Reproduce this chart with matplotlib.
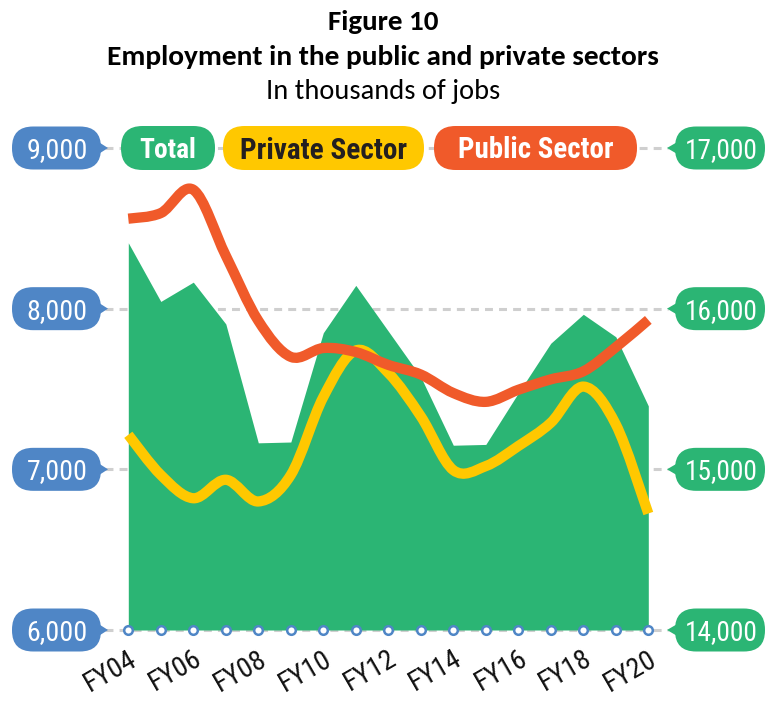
import numpy as np
import matplotlib
matplotlib.use("Agg")
import matplotlib.pyplot as plt
from matplotlib.path import Path
from matplotlib.patches import PathPatch, FancyBboxPatch, Polygon
from matplotlib.transforms import IdentityTransform
from matplotlib import font_manager

# ---------------- data ----------------
years = ["FY04", "FY05", "FY06", "FY07", "FY08", "FY09", "FY10", "FY11", "FY12",
         "FY13", "FY14", "FY15", "FY16", "FY17", "FY18", "FY19", "FY20"]
total = [16410, 16045, 16165, 15905, 15165, 15170, 15850, 16145, 15860,
         15575, 15150, 15155, 15475, 15785, 15965, 15825, 15395]
private = [7215, 6965, 6820, 6935, 6800, 6965, 7450, 7740, 7600,
           7330, 6995, 7020, 7145, 7290, 7515, 7280, 6725]
public = [8560, 8595, 8740, 8330, 7925, 7700, 7755, 7730, 7650,
          7590, 7475, 7420, 7495, 7560, 7610, 7760, 7930]
left_ticks = [6000, 7000, 8000, 9000]
right_ticks = [14000, 15000, 16000, 17000]
left_labels = ["6,000", "7,000", "8,000", "9,000"]
right_labels = ["14,000", "15,000", "16,000", "17,000"]
legend_labels = ["Total", "Private Sector", "Public Sector"]
title_lines = ["Figure 10", "Employment in the public and private sectors", "In thousands of jobs"]

GREEN = "#2BB574"
YELLOW = "#FFC800"
ORANGE = "#F05A2A"
BLUE = "#4F86C6"
GRID = "#CFCFCF"

# ---------------- fonts ----------------
names = {f.name for f in font_manager.fontManager.ttflist}
cond = next((n for n in ["Liberation Sans Narrow", "Roboto Condensed", "Open Sans Condensed"] if n in names), None)
if cond is None:
    cond_kw = dict(family="DejaVu Sans", stretch="condensed")
else:
    cond_kw = dict(family=cond)
tfont = next((n for n in ["Carlito", "Lato", "Open Sans"] if n in names), "DejaVu Sans")

W, H = 766, 702
fig = plt.figure(figsize=(W / 100, H / 100), dpi=100)
renderer = fig.canvas.get_renderer()

L, R, T, B = 105, 668, 148, 630
ax = fig.add_axes([L / W, 1 - B / H, (R - L) / W, (B - T) / H])
x = np.arange(len(years))
ax.set_xlim(-0.717, 16.606)
ax.set_ylim(left_ticks[0], left_ticks[-1])
ax2 = ax.twinx()
ax2.set_ylim(right_ticks[0], right_ticks[-1])
ax.set_zorder(ax2.get_zorder() + 1)
ax.patch.set_visible(False)
for a in (ax, ax2):
    for s in a.spines.values():
        s.set_visible(False)
    a.set_yticks([])
ax2.set_xticks([])

# grid (behind area)
for v in right_ticks:
    ax2.axhline(v, color=GRID, lw=2.2, ls=(0, (2.6, 2.0)), zorder=0, clip_on=False)

# total area
ax2.fill_between(x, right_ticks[0], total, color=GREEN, lw=0, zorder=1)


def smooth_path(xs, ys):
    P = np.column_stack([xs, ys]).astype(float)
    Pe = np.vstack([P[0], P, P[-1]])
    verts = [P[0]]
    codes = [Path.MOVETO]
    for i in range(len(P) - 1):
        p0, p1, p2, p3 = Pe[i], Pe[i + 1], Pe[i + 2], Pe[i + 3]
        verts += [p1 + (p2 - p0) / 6.0, p2 - (p3 - p1) / 6.0, p2]
        codes += [Path.CURVE4] * 3
    return Path(verts, codes)


for series, col in ((private, YELLOW), (public, ORANGE)):
    pp = PathPatch(smooth_path(x, series), fill=False, edgecolor=col, lw=7.4,
                   capstyle="butt", joinstyle="round", zorder=3)
    ax.add_patch(pp)

# bottom markers
ax.plot(x, [left_ticks[0]] * len(x), "o", ms=6.2, mfc="white", mec=BLUE, mew=1.8,
        clip_on=False, zorder=5)


def fit(t, target):
    bb = t.get_window_extent(renderer)
    t.set_fontsize(t.get_fontsize() * target / bb.width)
    return t.get_fontsize()


def pill(x0, x1, yc, h, color, tip=None):
    p = FancyBboxPatch((x0, yc - h / 2), x1 - x0, h,
                       boxstyle="round,pad=0,rounding_size=%f" % (h / 2 - 0.5),
                       fc=color, ec="none", transform=IdentityTransform(), zorder=2)
    fig.add_artist(p)
    if tip is not None:
        edge = x1 - 4 if tip > x1 else x0 + 4
        poly = Polygon([(edge, yc - 7), (tip, yc), (edge, yc + 7)], closed=True,
                       fc=color, ec="none", transform=IdentityTransform(), zorder=2)
        fig.add_artist(poly)


def label(xc, yc, s, target_w, color, weight="normal"):
    t = fig.text(xc / W, yc / H, s, ha="center", va="baseline", color=color,
                 fontsize=20, fontweight=weight, zorder=4, **cond_kw)
    fs = fit(t, target_w)
    cap = 0.72 * fs * 100 / 72
    t.set_position((xc / W, (yc - cap / 2) / H))
    return t


PH = 43
for v, s in zip(left_ticks, left_labels):
    yc = ax.transData.transform((0, v))[1]
    pill(12, 101, yc, PH, BLUE, tip=108)
    label(57, yc, s, 61, "white")
for v, s in zip(right_ticks, right_labels):
    yc = ax2.transData.transform((0, v))[1]
    pill(675, 765, yc, PH, GREEN, tip=667)
    label(721, yc, s, 73, "white")

# legend pills
yc = ax.transData.transform((0, left_ticks[-1]))[1]
leg = [(121, 215, GREEN, "white", 57), (223, 424, YELLOW, "#231F20", 166), (434, 637, ORANGE, "white", 155)]
for (x0, x1, c, tc, tw), s in zip(leg, legend_labels):
    pill(x0, x1, yc, 44, c)
    label((x0 + x1) / 2, yc, s, tw, tc, weight="bold")

# x tick labels (every other year)
tmp = fig.text(0, 0, "FY04", fontsize=20, **cond_kw)
tick_fs = fit(tmp, 56)
tmp.remove()
ax.set_xticks(x[::2])
ax.set_xticklabels(years[::2], rotation=30, ha="right", va="top", rotation_mode="anchor",
                   fontsize=tick_fs, color="#111111", **cond_kw)
ax.tick_params(axis="x", length=0, pad=11)

# titles
tspecs = [(22, "bold", 111), (57, "bold", 554), (91, "normal", 234)]
for (yy, wgt, tw), s in zip(tspecs, title_lines):
    t = fig.text(0.5, 1 - yy / H, s, ha="center", va="center", fontweight=wgt,
                 fontsize=16, family=tfont, color="black")
    fit(t, tw)

fig.savefig("out.png", dpi=100)
